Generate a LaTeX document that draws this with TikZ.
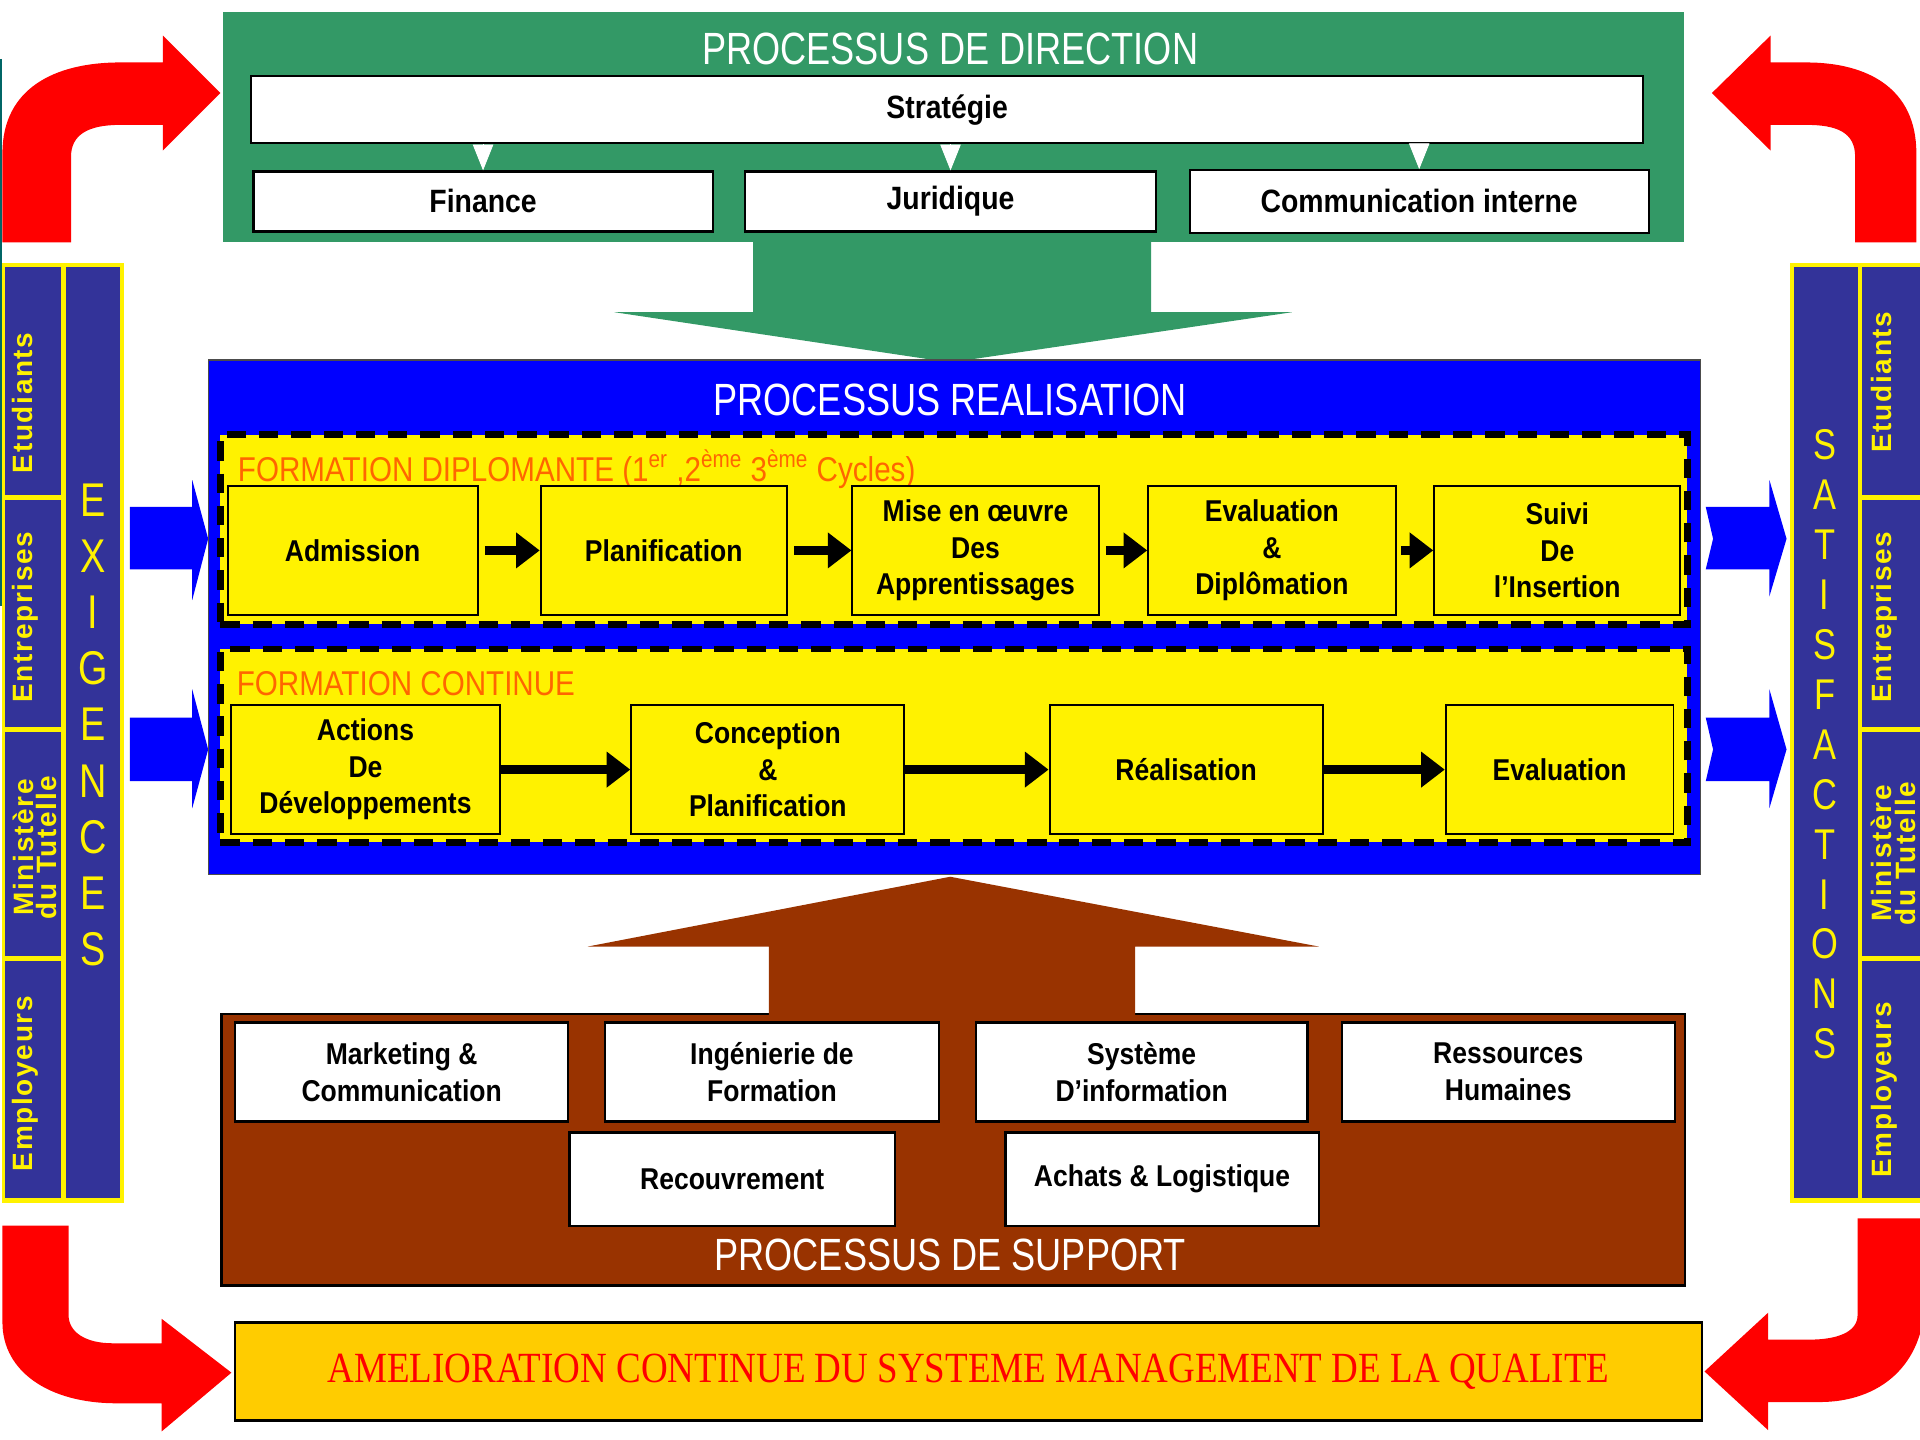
\documentclass[tikz,border=0pt]{standalone}
\usepackage{fontspec}
\setmainfont{Liberation Sans}
\newfontfamily\boxfont{Liberation Sans}[FakeStretch=0.88]
\newfontfamily\titlefont{Liberation Sans}[FakeStretch=0.8]
\newfontfamily\labelfont{Liberation Sans}[FakeStretch=0.86]
\newfontfamily\sidefont{Liberation Sans}[LetterSpace=6]
\newfontfamily\bannerfont{Liberation Serif}[FakeStretch=0.86]
\usetikzlibrary{positioning,arrows.meta}
\newcommand{\pxu}{0.02cm}
\definecolor{dirGreen}{HTML}{339966}
\definecolor{realBlue}{HTML}{0000FF}
\definecolor{supBrown}{HTML}{993300}
\definecolor{sideNavy}{HTML}{333399}
\definecolor{labelOrange}{HTML}{FF6600}
\definecolor{bannerGold}{HTML}{FFCC00}
\definecolor{edgeTeal}{HTML}{006666}
\tikzset{
  panel/.style={rectangle, inner sep=0pt},
  procTitle/.style={text=white, inner sep=0pt, font={\titlefont\fontsize{21}{25}\selectfont}},
  dirBox/.style={rectangle, fill=white, draw, line width=1pt, inner sep=0pt, font={\boxfont\bfseries\fontsize{15}{18}\selectfont}},
  frameBox/.style={rectangle, fill=yellow, draw, line width=3pt, dash pattern=on 9pt off 6pt, inner sep=0pt},
  frameLabel/.style={text=labelOrange, anchor=west, inner sep=0pt, font={\labelfont\fontsize{16}{19}\selectfont}},
  stepBox/.style={rectangle, fill=yellow, draw, line width=0.9pt, inner sep=0pt, align=center, minimum height=105*\pxu, font={\boxfont\bfseries\fontsize{14}{17}\selectfont}},
  supBox/.style={rectangle, fill=white, draw, line width=1.1pt, inner sep=0pt, align=center, font={\boxfont\bfseries\fontsize{14}{17}\selectfont}},
  bannerBox/.style={rectangle, fill=bannerGold, draw, line width=1.2pt, inner sep=0pt, text=red, font={\bannerfont\fontsize{20}{24}\selectfont}},
  sideCell/.style={rectangle, fill=sideNavy, inner sep=0pt},
  sideText/.style={text=yellow, rotate=90, anchor=north, align=center, inner sep=0pt, font={\sidefont\bfseries\fontsize{13}{13.6}\selectfont}},
  sideTwoLines/.style={sideText, font={\sidefont\bfseries\fontsize{13}{10.8}\selectfont}},
  stackText/.style={text=yellow, align=center, inner sep=0pt},
  stepArrow/.style={-{Triangle[length=11pt,width=16pt]}, line width=4pt},
  splitArrow/.style={white, line width=0.4pt, -{Triangle[length=12pt,width=9.5pt]}}
}
\begin{document}
\begin{tikzpicture}[x=\pxu, y=-\pxu]
\useasboundingbox (0,0) rectangle (1568,1176);
\draw[edgeTeal, line width=1.2pt] (0.6,48) -- (0.6,495);

% red loop arrows
\fill[red] (2,198) -- (2,125) .. controls (2,72) and (45,51) .. (98,51) -- (133,51) -- (133,29) -- (180,76) -- (133,123) -- (133,102) -- (98,102) .. controls (72,102) and (58,110) .. (58,128) -- (58,198) -- cycle;
\fill[red] (1565,198) -- (1565,125) .. controls (1565,72) and (1525,51) .. (1475,51) -- (1446,51) -- (1446,29) -- (1398,76) -- (1446,123) -- (1446,102) -- (1475,102) .. controls (1500,102) and (1515,108) .. (1515,128) -- (1515,198) -- cycle;
\fill[red] (2,1001) -- (56,1001) -- (56,1074) .. controls (56,1088) and (70,1097) .. (92,1097) -- (132,1097) -- (132,1077) -- (189,1121) -- (132,1169) -- (132,1146) -- (95,1146) .. controls (40,1146) and (2,1120) .. (2,1080) -- cycle;
\fill[red] (1517,995) -- (1572,995) -- (1572,1060) .. controls (1572,1115) and (1535,1145) .. (1486,1145) -- (1444,1145) -- (1444,1168) -- (1392,1120) -- (1444,1072) -- (1444,1094) -- (1478,1094) .. controls (1500,1094) and (1517,1088) .. (1517,1074) -- cycle;

% exigences
\node[panel, fill=yellow, minimum width=100*\pxu, minimum height=768*\pxu] (leftPanel) at (51.5,598.5) {};
\node[sideCell, minimum width=46*\pxu, minimum height=186*\pxu] (lEtu) at (27,311) {};
\node[sideCell, minimum width=46*\pxu, minimum height=186*\pxu] (lEnt) at (27,501) {};
\node[sideCell, minimum width=46*\pxu, minimum height=183*\pxu] (lMin) at (27,689.5) {};
\node[sideCell, minimum width=46*\pxu, minimum height=193*\pxu] (lEmp) at (27,881.5) {};
\node[sideCell, minimum width=44*\pxu, minimum height=760*\pxu] (lReq) at (76,598) {};
\node[sideText] (lEtuText) at (10,329) {Etudiants};
\node[sideText] (lEntText) at (10,504) {Entreprises};
\node[sideTwoLines] (lMinText) at (10,692) {Ministère\\du Tutelle};
\node[sideText] (lEmpText) at (10,885) {Employeurs};
\node[stackText, font={\titlefont\fontsize{22}{26.1}\selectfont}] (reqText) at (76,592) {E\\X\\I\\G\\E\\N\\C\\E\\S};

% satisfactions
\node[panel, fill=yellow, minimum width=113*\pxu, minimum height=768*\pxu] (rightPanel) at (1518.5,598.5) {};
\node[sideCell, minimum width=52*\pxu, minimum height=760*\pxu] (rSat) at (1491,598) {};
\node[sideCell, minimum width=54*\pxu, minimum height=186*\pxu] (rEtu) at (1548,311) {};
\node[sideCell, minimum width=54*\pxu, minimum height=186*\pxu] (rEnt) at (1548,501) {};
\node[sideCell, minimum width=54*\pxu, minimum height=183*\pxu] (rMin) at (1548,689.5) {};
\node[sideCell, minimum width=54*\pxu, minimum height=193*\pxu] (rEmp) at (1548,881.5) {};
\node[sideText] (rEtuText) at (1528,312) {Etudiants};
\node[sideText] (rEntText) at (1528,504) {Entreprises};
\node[sideTwoLines] (rMinText) at (1528,697) {Ministère\\du Tutelle};
\node[sideText] (rEmpText) at (1528,890) {Employeurs};
\node[stackText, font={\titlefont\fontsize{20}{23.2}\selectfont}] (satText) at (1490,608) {S\\A\\T\\I\\S\\F\\A\\C\\T\\I\\O\\N\\S};

% blue side arrows
\fill[realBlue] (106,414) -- (157,414) -- (157,392) -- (170,440) -- (157,490) -- (157,465) -- (106,465) -- cycle;
\fill[realBlue] (106,586) -- (157,586) -- (157,563) -- (170,612) -- (157,660) -- (157,638) -- (106,638) -- cycle;
\fill[realBlue] (1393,414) -- (1445,414) -- (1445,392) -- (1459,440) -- (1445,487) -- (1445,465) -- (1393,465) -- (1399,440) -- cycle;
\fill[realBlue] (1393,586) -- (1445,586) -- (1445,563) -- (1459,612) -- (1445,660) -- (1445,638) -- (1393,638) -- (1399,612) -- cycle;

% direction
\node[panel, fill=dirGreen, minimum width=1193*\pxu, minimum height=188*\pxu] (dirPanel) at (778.5,104) {};
\node[procTitle] (dirTitle) at (776,40) {PROCESSUS DE DIRECTION};
\node[dirBox, minimum width=1137*\pxu, minimum height=55*\pxu] (strat) at (773.5,89.5) {Stratégie};
\node[dirBox, minimum width=375*\pxu, minimum height=49*\pxu] (fin) at (394.5,164.5) {Finance};
\node[dirBox, minimum width=335*\pxu, minimum height=49*\pxu, right=0.5cm of fin] (jur) {Juridique};
\node[dirBox, minimum width=375*\pxu, minimum height=51*\pxu, right=0.52cm of jur] (comm) {Communication interne};
\draw[splitArrow] (strat.south -| fin.north) -- (fin.north);
\draw[splitArrow] (strat.south -| jur.north) -- (jur.north);
\draw[splitArrow] (strat.south -| comm.north) -- (comm.north);
\fill[dirGreen] (615,197) -- (940,197) -- (940,255) -- (1055,255) -- (776,296) -- (502,255) -- (615,255) -- cycle;

% realisation
\node[panel, fill=realBlue, draw=black!70, line width=0.6pt, minimum width=1219*\pxu, minimum height=420*\pxu] (realPanel) at (779.5,504) {};
\node[procTitle] (realTitle) at (776,327) {PROCESSUS REALISATION};
\node[frameBox, minimum width=1198*\pxu, minimum height=155*\pxu] (diplo) at (779,432.5) {};
\node[frameLabel] (diploLabel) at (194,383) {FORMATION DIPLOMANTE (1\textsuperscript{er} ,2\textsuperscript{ème} 3\textsuperscript{ème} Cycles)};
\node[stepBox, minimum width=204*\pxu] (adm) at (288,449.5) {Admission};
\node[stepBox, minimum width=201*\pxu, right=1cm of adm] (plan) {Planification};
\node[stepBox, minimum width=201*\pxu, right=1.04cm of plan] (mise) {Mise en œuvre\\Des\\Apprentissages};
\node[stepBox, minimum width=202*\pxu, right=0.78cm of mise] (evald) {Evaluation\\\&\\Diplômation};
\node[stepBox, minimum width=201*\pxu, right=0.6cm of evald] (suivi) {Suivi\\De\\l’Insertion};
\draw[stepArrow, shorten <=3pt] (adm) -- (plan);
\draw[stepArrow, shorten <=3pt] (plan) -- (mise);
\draw[stepArrow, shorten <=3pt] (mise) -- (evald);
\draw[stepArrow, shorten <=2pt] (evald) -- (suivi);

\node[frameBox, minimum width=1198*\pxu, minimum height=158*\pxu] (cont) at (779,609) {};
\node[frameLabel] (contLabel) at (193,558) {FORMATION CONTINUE};
\node[stepBox, minimum width=219*\pxu] (act) at (298.5,628.5) {Actions\\De\\Développements};
\node[stepBox, minimum width=223*\pxu, right=2.12cm of act] (conc) {Conception\\\&\\Planification};
\node[stepBox, minimum width=223*\pxu, right=2.34cm of conc] (real) {Réalisation};
\node[stepBox, minimum width=186*\pxu, right=1.98cm of real] (evalc) {Evaluation};
\draw[stepArrow] (act) -- (conc);
\draw[stepArrow] (conc) -- (real);
\draw[stepArrow] (real) -- (evalc);

% support
\node[panel, fill=supBrown, draw, line width=1.2pt, minimum width=1195*\pxu, minimum height=222*\pxu] (supPanel) at (778.5,939) {};
\fill[supBrown] (776,716) -- (1077,773) -- (927,773) -- (927,830) -- (628,830) -- (628,773) -- (480,773) -- cycle;
\node[procTitle] (supTitle) at (776,1025) {PROCESSUS DE SUPPORT};
\node[supBox, minimum width=272*\pxu, minimum height=81*\pxu] (mark) at (328,875.5) {Marketing \&\\Communication};
\node[supBox, minimum width=273*\pxu, minimum height=81*\pxu, right=0.56cm of mark] (ing) {Ingénierie de\\Formation};
\node[supBox, minimum width=271*\pxu, minimum height=81*\pxu, right=0.56cm of ing] (sys) {Système\\D’information};
\node[supBox, minimum width=272*\pxu, minimum height=81*\pxu, right=0.52cm of sys] (rh) {Ressources\\Humaines};
\node[supBox, minimum width=266*\pxu, minimum height=76*\pxu] (rec) at (598,963) {Recouvrement};
\node[supBox, minimum width=256*\pxu, minimum height=76*\pxu] (ach) at (949,963) {Achats \& Logistique};

% amelioration
\node[bannerBox, minimum width=1198*\pxu, minimum height=80*\pxu] (banner) at (791,1120) {AMELIORATION CONTINUE DU SYSTEME MANAGEMENT DE LA QUALITE};
\end{tikzpicture}
\end{document}
